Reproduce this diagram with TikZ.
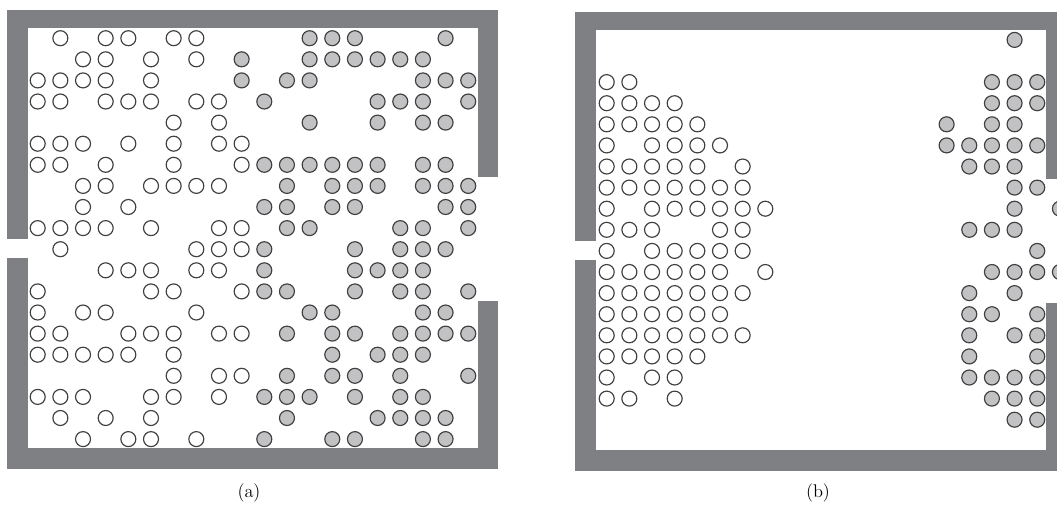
\documentclass[tikz,border=0pt]{standalone}
\usepackage{xcolor}
\usepackage{tikz}

\definecolor{wallgray}{RGB}{127,128,132}
\definecolor{pedgray}{RGB}{194,194,196}

\begin{document}
\begin{tikzpicture}[x=0.6pt, y=-0.6pt,
  wall/.style={fill=wallgray},
  ped/.style={draw=black!75, line width=0.7pt, fill=white},
  pedg/.style={ped, fill=pedgray},
  sublabel/.style={font=\fontsize{11}{13}\selectfont, inner sep=0pt}
]
\clip (0,0) rectangle (1057,512);

\foreach \dx/\dy in {0/0, 568/2} {
  \begin{scope}[shift={(\dx,\dy)}]
  \fill[wall] (7,10) rectangle (498,28.3);
  \fill[wall] (7,10) rectangle (28.3,239.3);
  \fill[wall] (7,258.3) rectangle (28.3,469);
  \fill[wall] (7,448) rectangle (498,469);
  \fill[wall] (478.3,10) rectangle (498,176.7);
  \fill[wall] (478.3,300.7) rectangle (498,469);
  \end{scope}
}

% (a)
\foreach \r/\cs in {0/{1,3,4,6,7}, 1/{2,3,5,7}, 2/{0,1,2,3,5}, 3/{0,1,3,4,5,7,8},
    4/{6,8}, 5/{0,1,2,4,6,8,9}, 6/{0,1,3,6,9}, 7/{2,3,5,6,7,8}, 8/{2,4},
    9/{0,1,2,3,5,8,9}, 10/{1,7,8,9}, 11/{3,4,5,7,8}, 12/{0,5,6,9}, 13/{0,2,3,7},
    14/{0,1,4,5,6,8,9}, 15/{0,1,2,3,4,6}, 16/{6,8,9}, 17/{0,1,2,5,6,8},
    18/{1,3,5}, 19/{2,4,5,7}}
  \foreach \c in \cs
    \draw[ped] ({37.7+22.66*\c},{38.2+21.1*\r}) circle[radius=7.5];
\foreach \r/\cs in {0/{12,13,14,18}, 1/{9,12,13,14,15,16,17}, 2/{9,11,12,17,18,19},
    3/{10,15,16,17,19}, 4/{12,15,17,18}, 6/{10,11,12,13,14,15,17,18},
    7/{11,13,14,15,17,18,19}, 8/{10,11,13,14,18,19}, 9/{11,12,16,17,19},
    10/{10,14,16,17,18}, 11/{10,14,15,16,17}, 12/{10,11,14,16,17,19},
    13/{12,13,17,18}, 14/{11,13,14,16,17,18,19}, 15/{13,15,16,17},
    16/{11,13,14,16,19}, 17/{10,11,12,14,16,17}, 18/{11,15,16,17,18},
    19/{10,13,14,17,18}}
  \foreach \c in \cs
    \draw[pedg] ({37.7+22.66*\c},{38.2+21.1*\r}) circle[radius=7.5];

% (b)
\foreach \r/\cs in {2/{0,1}, 3/{0,1,2,3}, 4/{0,1,2,3,4}, 5/{0,2,3,4,5},
    6/{0,1,2,3,4,6}, 7/{0,1,2,3,4,5,6}, 8/{0,2,3,4,5,6,7}, 9/{0,1,2,5,6},
    10/{0,2,3,4,5,6}, 11/{0,1,2,3,4,5,7}, 12/{0,1,2,3,4,5,6}, 13/{0,1,2,3,4,5},
    14/{0,1,2,3,4,5,6}, 15/{0,1,2,3,4}, 16/{0,2,3}, 17/{0,1,3}}
  \foreach \c in \cs
    \draw[ped] ({606.7+22.66*\c},{39.9+21.1*\r}) circle[radius=7.5];
\foreach \r/\cs in {0/{18}, 2/{17,18,19}, 3/{17,18,19}, 4/{15,17,18},
    5/{15,16,17,18,19}, 6/{16,17,18}, 7/{18,19}, 8/{18,20}, 9/{16,17,18},
    10/{19}, 11/{17,18,19,20}, 12/{16,18}, 13/{16,17,19}, 14/{16,18,19},
    15/{16,19}, 16/{16,17,18,19}, 17/{17,18,19}, 18/{18,19}}
  \foreach \c in \cs
    \draw[pedg] ({606.7+22.66*\c},{39.9+21.1*\r}) circle[radius=7.5];

\node[sublabel] (lbla) at (249,493) {(a)};
\node[sublabel] (lblb) at (818,493) {(b)};
\end{tikzpicture}
\end{document}
